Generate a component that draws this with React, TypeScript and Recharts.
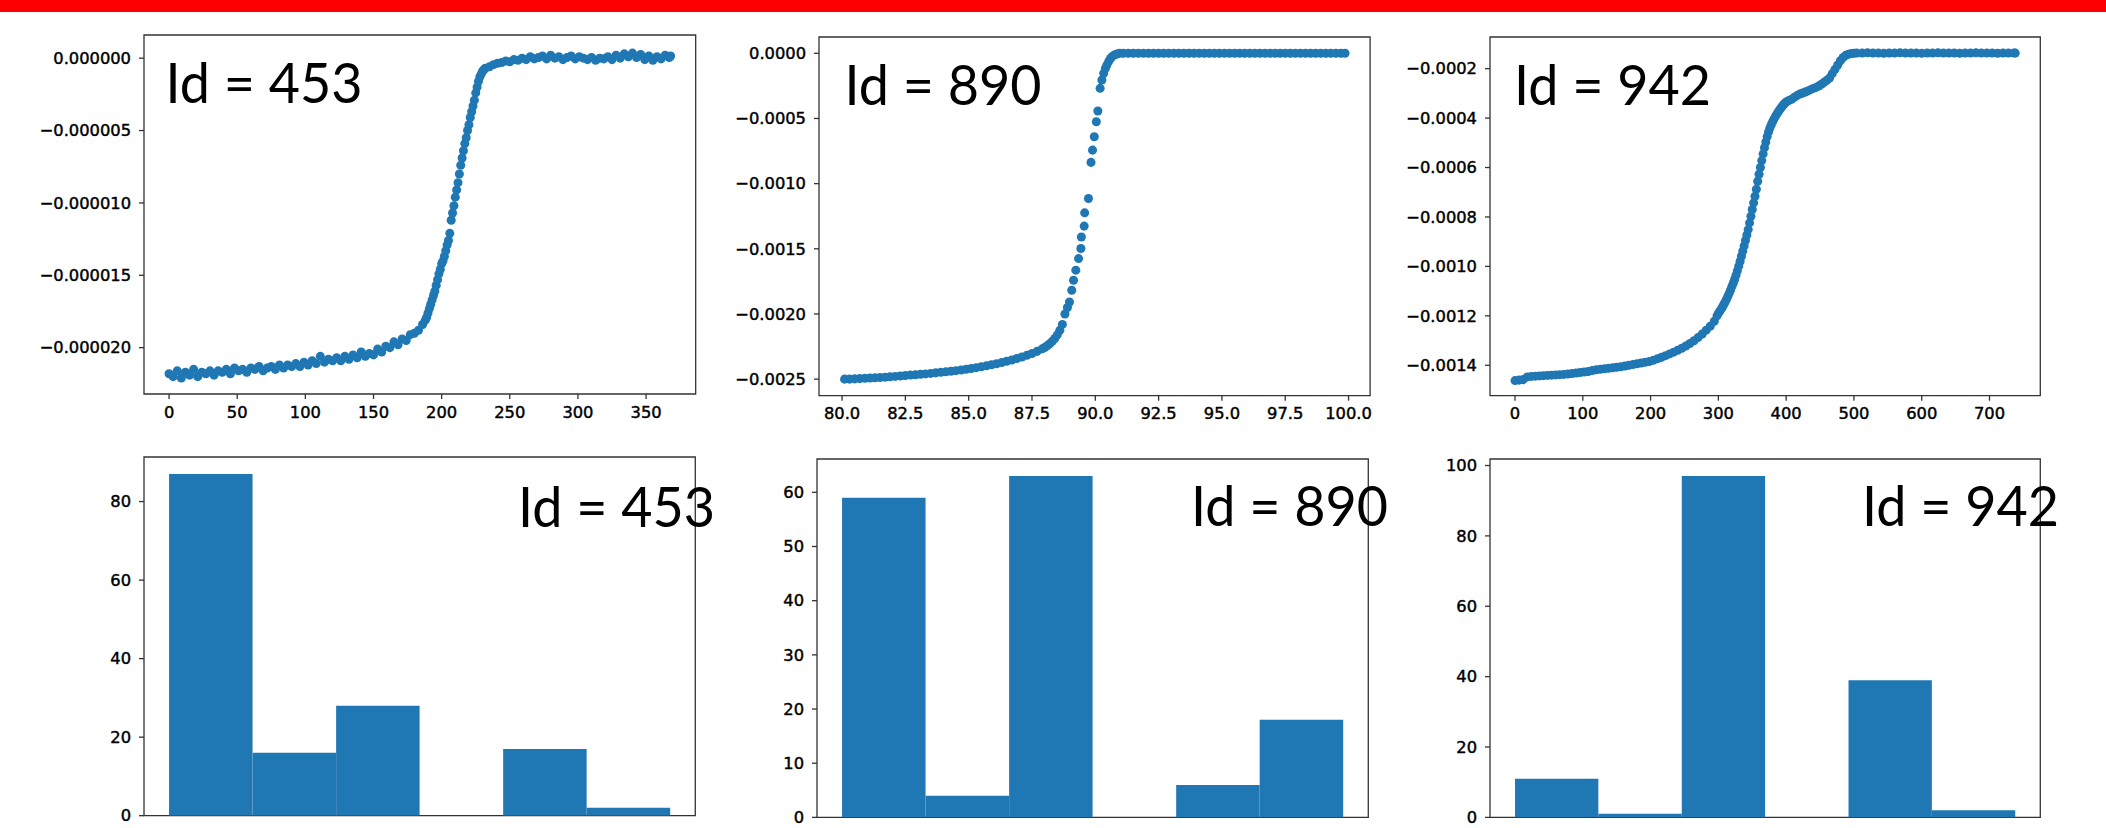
import React from 'react';
import { ScatterChart, Scatter, BarChart, Bar, XAxis, YAxis, ZAxis, ReferenceArea } from 'recharts';

const BLUE = '#1f77b4';
const FRAME = '#333333';
const MINUS = '\u2212';

// Id 453 trace: [sample, value in 1e-6]
const id453Trace: [number, number][] = [
    [0, -21.8], [3, -22.0], [6, -21.6], [9, -22.1], [12, -21.7], [15, -21.9], [18, -21.5], [21, -22.0],
    [24, -21.7], [27, -21.8], [30, -21.6], [33, -21.9], [36, -21.6], [39, -21.7], [42, -21.5], [45, -21.8],
    [48, -21.4], [51, -21.6], [54, -21.5], [57, -21.7], [60, -21.4], [63, -21.5], [66, -21.3], [69, -21.6],
    [72, -21.4], [75, -21.3], [78, -21.5], [81, -21.2], [84, -21.4], [87, -21.2], [90, -21.3], [93, -21.1],
    [96, -21.3], [99, -21.0], [102, -21.2], [105, -20.9], [108, -21.1], [111, -20.6], [114, -21.0], [117, -20.8],
    [120, -20.9], [123, -20.7], [126, -20.9], [129, -20.6], [132, -20.8], [135, -20.5], [138, -20.7], [141, -20.3],
    [144, -20.6], [147, -20.4], [150, -20.5], [153, -20.1], [156, -20.3], [159, -19.9], [162, -20.0], [165, -19.6],
    [168, -19.8], [171, -19.4], [174, -19.5], [177, -19.1], [180, -19.0], [183, -18.8], [186, -18.4],
    [188, -18.1], [189, -17.9], [190, -17.6], [191, -17.3], [192, -17.0], [193, -16.7], [194, -16.4], [195, -16.1],
    [196, -15.7], [197, -15.3], [198, -14.9], [199, -14.6], [200, -14.2], [201, -14.0], [202, -13.7], [203, -13.3],
    [204, -12.9], [205, -12.6], [206, -12.1], [207, -11.2], [208, -10.7], [209, -10.2], [210, -9.6], [211, -9.1],
    [212, -8.6], [213, -8.0], [214, -7.4], [215, -6.9], [216, -6.4], [217, -5.9], [218, -5.5], [219, -5.0],
    [220, -4.6], [221, -4.1], [222, -3.7], [223, -3.3], [224, -2.9], [225, -2.4], [226, -2.0], [227, -1.6],
    [228, -1.3], [229, -1.1], [230, -0.9], [231, -0.8], [232, -0.7],
    [235, -0.6], [238, -0.45], [241, -0.35], [244, -0.3], [247, -0.2], [250, -0.25], [253, -0.1], [256, -0.15],
    [259, 0.0], [262, -0.1], [265, 0.1], [268, -0.05], [271, 0.05], [274, 0.15], [277, -0.05], [280, 0.2],
    [283, 0.0], [286, 0.1], [289, -0.1], [292, 0.05], [295, 0.15], [298, -0.05], [301, 0.1], [304, 0.0],
    [307, -0.1], [310, 0.05], [313, -0.15], [316, 0.0], [319, -0.05], [322, 0.1], [325, -0.1], [328, 0.2],
    [331, 0.0], [334, 0.3], [337, 0.1], [340, 0.35], [343, 0.05], [346, 0.25], [349, -0.1], [352, 0.15],
    [355, -0.15], [358, 0.1], [361, -0.05], [364, 0.2], [367, 0.05], [368, 0.15],
];

// Id 890 trace: [x, value in 1e-4]
const id890Trace: [number, number][] = [
    [80.1, -25.0], [80.3, -25.0], [80.5, -24.98], [80.7, -24.96], [80.9, -24.94], [81.1, -24.92], [81.3, -24.9],
    [81.5, -24.87], [81.7, -24.85], [81.9, -24.82], [82.1, -24.79], [82.3, -24.76], [82.5, -24.72], [82.7, -24.69],
    [82.9, -24.66], [83.1, -24.63], [83.3, -24.6], [83.5, -24.56], [83.7, -24.52], [83.9, -24.48], [84.1, -24.44],
    [84.3, -24.4], [84.5, -24.35], [84.7, -24.3], [84.9, -24.24], [85.1, -24.18], [85.3, -24.12], [85.5, -24.05],
    [85.7, -23.98], [85.9, -23.9], [86.1, -23.82], [86.3, -23.73], [86.5, -23.63], [86.7, -23.53], [86.9, -23.42],
    [87.1, -23.3], [87.3, -23.17], [87.5, -23.03], [87.7, -22.87], [87.9, -22.68], [88.0, -22.57], [88.1, -22.44],
    [88.2, -22.28], [88.3, -22.1], [88.4, -21.88], [88.5, -21.6], [88.6, -21.25], [88.7, -20.8], [88.8, -20.0],
    [88.9, -19.5], [88.98, -19.08], [89.07, -18.18], [89.14, -17.41], [89.23, -16.64], [89.34, -15.75],
    [89.43, -14.98], [89.45, -14.09], [89.56, -13.26], [89.58, -12.24], [89.73, -11.14], [89.83, -8.37],
    [89.89, -7.43], [89.96, -6.4], [90.04, -5.25], [90.1, -4.43], [90.19, -2.69], [90.26, -2.05], [90.33, -1.54],
    [90.4, -1.15], [90.46, -0.9], [90.53, -0.62], [90.6, -0.4], [90.66, -0.26], [90.75, -0.13], [90.85, -0.05],
    [90.95, 0], [91.1, 0], [91.3, 0], [91.5, 0], [91.7, 0], [91.9, 0], [92.1, 0], [92.3, 0], [92.5, 0], [92.7, 0],
    [92.9, 0], [93.1, 0], [93.3, 0], [93.5, 0], [93.7, 0], [93.9, 0], [94.1, 0], [94.3, 0], [94.5, 0], [94.7, 0],
    [94.9, 0], [95.1, 0], [95.3, 0], [95.5, 0], [95.7, 0], [95.9, 0], [96.1, 0], [96.3, 0], [96.5, 0], [96.7, 0],
    [96.9, 0], [97.1, 0], [97.3, 0], [97.5, 0], [97.7, 0], [97.9, 0], [98.1, 0], [98.3, 0], [98.5, 0], [98.7, 0],
    [98.9, 0], [99.1, 0], [99.3, 0], [99.5, 0], [99.7, 0], [99.86, 0],
];

// Id 942 trace: [sample, value in 1e-4]
const id942Trace: [number, number][] = [
    [0, -14.62], [6, -14.6], [12, -14.58], [18, -14.47], [24, -14.45], [30, -14.44], [36, -14.43], [42, -14.42],
    [48, -14.41], [54, -14.4], [60, -14.39], [66, -14.38], [72, -14.37], [78, -14.35], [84, -14.33], [90, -14.31],
    [96, -14.29], [102, -14.27], [108, -14.25], [114, -14.21], [120, -14.18], [126, -14.16], [132, -14.14],
    [138, -14.12], [144, -14.1], [150, -14.08], [156, -14.06], [162, -14.03], [168, -14.0], [174, -13.97],
    [180, -13.94], [186, -13.91], [192, -13.88], [198, -13.85], [204, -13.8], [210, -13.74], [216, -13.68],
    [222, -13.61], [228, -13.54], [234, -13.47], [240, -13.39], [246, -13.31], [252, -13.22], [258, -13.12],
    [264, -13.01], [270, -12.88], [276, -12.74], [282, -12.58], [288, -12.42], [294, -12.22],
    [298, -12.0], [300, -11.9], [302, -11.82], [304, -11.73], [306, -11.64], [308, -11.54], [310, -11.44],
    [312, -11.33], [314, -11.21], [316, -11.08], [318, -10.95], [320, -10.81], [322, -10.67], [324, -10.53],
    [326, -10.36], [328, -10.18], [330, -9.99], [332, -9.8], [334, -9.59], [336, -9.38], [338, -9.17],
    [340, -8.95], [342, -8.73], [344, -8.51], [346, -8.24], [348, -7.97], [350, -7.7], [352, -7.43],
    [354, -7.16], [356, -6.88], [358, -6.56], [360, -6.27], [362, -6.0], [364, -5.72], [366, -5.45],
    [368, -5.2], [370, -4.97], [372, -4.75], [374, -4.56], [376, -4.4], [378, -4.27], [380, -4.15],
    [382, -4.04], [384, -3.94], [386, -3.85], [388, -3.76], [390, -3.68], [392, -3.6], [394, -3.53],
    [396, -3.46], [398, -3.4], [400, -3.35],
    [404, -3.29], [408, -3.24], [412, -3.16], [416, -3.09], [420, -3.03], [424, -2.99], [428, -2.95],
    [432, -2.9], [436, -2.85], [440, -2.8], [444, -2.76], [448, -2.7], [452, -2.63], [456, -2.55],
    [460, -2.47], [464, -2.38], [468, -2.2], [472, -2.03], [476, -1.85], [480, -1.68], [484, -1.55],
    [488, -1.46], [492, -1.42], [496, -1.39], [500, -1.38],
    [504, -1.37], [512, -1.37], [520, -1.36], [528, -1.37], [536, -1.37], [544, -1.38], [552, -1.37],
    [560, -1.37], [568, -1.36], [576, -1.37], [584, -1.37], [592, -1.37], [600, -1.38], [608, -1.37],
    [616, -1.37], [624, -1.36], [632, -1.37], [640, -1.37], [648, -1.37], [656, -1.38], [664, -1.37],
    [672, -1.37], [680, -1.36], [688, -1.37], [696, -1.37], [704, -1.37], [712, -1.38], [720, -1.37],
    [728, -1.37], [736, -1.37], [738, -1.37],
];

const id453XTicks = [0, 50, 100, 150, 200, 250, 300, 350];
const id453YTicks = [-20, -15, -10, -5, 0];
const id890XTicks = [80, 82.5, 85, 87.5, 90, 92.5, 95, 97.5, 100];
const id890YTicks = [-25, -20, -15, -10, -5, 0];
const id942XTicks = [0, 100, 200, 300, 400, 500, 600, 700];
const id942YTicks = [-14, -12, -10, -8, -6, -4, -2];

// histograms: 6 bins each, bin centres on a 0..6 edge scale
const binCentres = [0.5, 1.5, 2.5, 3.5, 4.5, 5.5];
const id453Counts = [87, 16, 28, 0, 17, 2];
const id890Counts = [59, 4, 63, 0, 6, 18];
const id942Counts = [11, 1, 97, 0, 39, 2];
const binEdgeTicks = [0, 1.2, 2.4, 3.6, 4.8, 6];
const id453CountTicks = [0, 20, 40, 60, 80];
const id890CountTicks = [0, 10, 20, 30, 40, 50, 60];
const id942CountTicks = [0, 20, 40, 60, 80, 100];

const fixed = (scale: number, digits: number) => (v: number) =>
    (v * scale).toFixed(digits).replace('-', MINUS);

const YW = 140;
const MT = 10;
const MR = 12;
const XH = 40;
const tickStyle = { fill: '#000', fontSize: 16.3, fontFamily: 'DejaVu Sans', stroke: '#000', strokeWidth: 0.45 };
const tickLineStyle = { stroke: FRAME, strokeWidth: 1.3, fill: 'none' };

interface TraceProps {
    data: [number, number][];
    left: number;
    top: number;
    plotW: number;
    plotH: number;
    xDomain: [number, number];
    yDomain: [number, number];
    xTicks: number[];
    yTicks: number[];
    xFmt: (v: number) => string;
    yFmt: (v: number) => string;
}

function TracePanel(p: TraceProps) {
    const points = p.data.map(([x, y]) => ({ x, y }));
    return (
        <div style={{ position: 'absolute', left: p.left - YW, top: p.top - MT }}>
            <ScatterChart width={p.plotW + YW + MR} height={p.plotH + MT + XH} margin={{ top: MT, right: MR, bottom: 0, left: 0 }}>
                <XAxis type="number" dataKey="x" domain={p.xDomain} allowDataOverflow ticks={p.xTicks} interval={0}
                    tickFormatter={p.xFmt} axisLine={false} tickLine={tickLineStyle} tickSize={5} tickMargin={7}
                    height={XH} tick={tickStyle} />
                <YAxis type="number" dataKey="y" domain={p.yDomain} allowDataOverflow ticks={p.yTicks} interval={0}
                    tickFormatter={p.yFmt} axisLine={false} tickLine={tickLineStyle} tickSize={5} tickMargin={8}
                    width={YW} tick={tickStyle} />
                <ZAxis range={[80, 80]} />
                <Scatter data={points} fill={BLUE} isAnimationActive={false} />
                <ReferenceArea x1={p.xDomain[0]} x2={p.xDomain[1]} y1={p.yDomain[0]} y2={p.yDomain[1]}
                    fill="none" stroke={FRAME} strokeWidth={1.3} ifOverflow="visible" />
            </ScatterChart>
        </div>
    );
}

interface HistProps {
    counts: number[];
    left: number;
    top: number;
    plotW: number;
    plotH: number;
    yTicks: number[];
}

function HistPanel(p: HistProps) {
    const data = binCentres.map((x, i) => ({ x, count: p.counts[i] }));
    const yMax = Math.max(...p.counts) * 1.05;
    // just under one bin wide, so recharts does not shrink the bars
    const binPx = p.plotW / 6.6 - 0.05;
    return (
        <div style={{ position: 'absolute', left: p.left - YW, top: p.top - MT }}>
            <BarChart width={p.plotW + YW + MR} height={p.plotH + MT + XH} data={data} barCategoryGap={0} barGap={0}
                margin={{ top: MT, right: MR, bottom: 0, left: 0 }}>
                <XAxis type="number" dataKey="x" domain={[-0.3, 6.3]} allowDataOverflow ticks={binEdgeTicks}
                    interval={0} tick={false} axisLine={false} tickLine={tickLineStyle} tickSize={5} height={XH} />
                <YAxis type="number" domain={[0, yMax]} allowDataOverflow ticks={p.yTicks} interval={0}
                    axisLine={false} tickLine={tickLineStyle} tickSize={5} tickMargin={8} width={YW} tick={tickStyle} />
                <Bar dataKey="count" fill={BLUE} barSize={binPx} isAnimationActive={false} />
                <ReferenceArea x1={-0.3} x2={6.3} y1={0} y2={yMax}
                    fill="none" stroke={FRAME} strokeWidth={1.3} ifOverflow="visible" />
            </BarChart>
        </div>
    );
}

const idLabels = [
    { text: 'Id = 453', x: 165.5, y: 102.5 },
    { text: 'Id = 890', x: 844.5, y: 104.5 },
    { text: 'Id = 942', x: 1514, y: 105 },
    { text: 'Id = 453', x: 518, y: 526.5 },
    { text: 'Id = 890', x: 1191, y: 526 },
    { text: 'Id = 942', x: 1862, y: 526 },
];

export default function App() {
    return (
        <div style={{ position: 'absolute', left: 0, top: 0, width: 2106, height: 828, background: '#fff', overflow: 'hidden', fontFamily: 'DejaVu Sans' }}>
            <div style={{ position: 'absolute', left: 0, top: 0, width: 2106, height: 12, background: '#ff0000' }} />

            <TracePanel data={id453Trace} left={144.3} top={35} plotW={551.7} plotH={359}
                xDomain={[-18.4, 386.4]} yDomain={[-23.2, 1.6]} xTicks={id453XTicks} yTicks={id453YTicks}
                xFmt={(v) => String(v)} yFmt={fixed(1e-6, 6)} />
            <TracePanel data={id890Trace} left={818.5} top={37.3} plotW={551.1} plotH={358.7}
                xDomain={[79.09, 100.85]} yDomain={[-26.27, 1.25]} xTicks={id890XTicks} yTicks={id890YTicks}
                xFmt={(v) => v.toFixed(1)} yFmt={fixed(1e-4, 4)} />
            <TracePanel data={id942Trace} left={1490} top={37.3} plotW={550.3} plotH={358.7}
                xDomain={[-36.9, 774.9]} yDomain={[-15.23, -0.72]} xTicks={id942XTicks} yTicks={id942YTicks}
                xFmt={(v) => String(v)} yFmt={fixed(1e-4, 4)} />

            <HistPanel counts={id453Counts} left={144.3} top={457.3} plotW={551.3} plotH={358.7} yTicks={id453CountTicks} />
            <HistPanel counts={id890Counts} left={817} top={459.3} plotW={551.3} plotH={358.4} yTicks={id890CountTicks} />
            <HistPanel counts={id942Counts} left={1490} top={459.3} plotW={550.3} plotH={358.4} yTicks={id942CountTicks} />

            <svg width={2106} height={828} style={{ position: 'absolute', left: 0, top: 0, pointerEvents: 'none' }}>
                {idLabels.map((l, i) => (
                    <text key={i} x={l.x} y={l.y} fontFamily="Lato" fontSize={57} fill="#000"
                        textLength={197} lengthAdjust="spacingAndGlyphs">{l.text}</text>
                ))}
            </svg>
        </div>
    );
}
